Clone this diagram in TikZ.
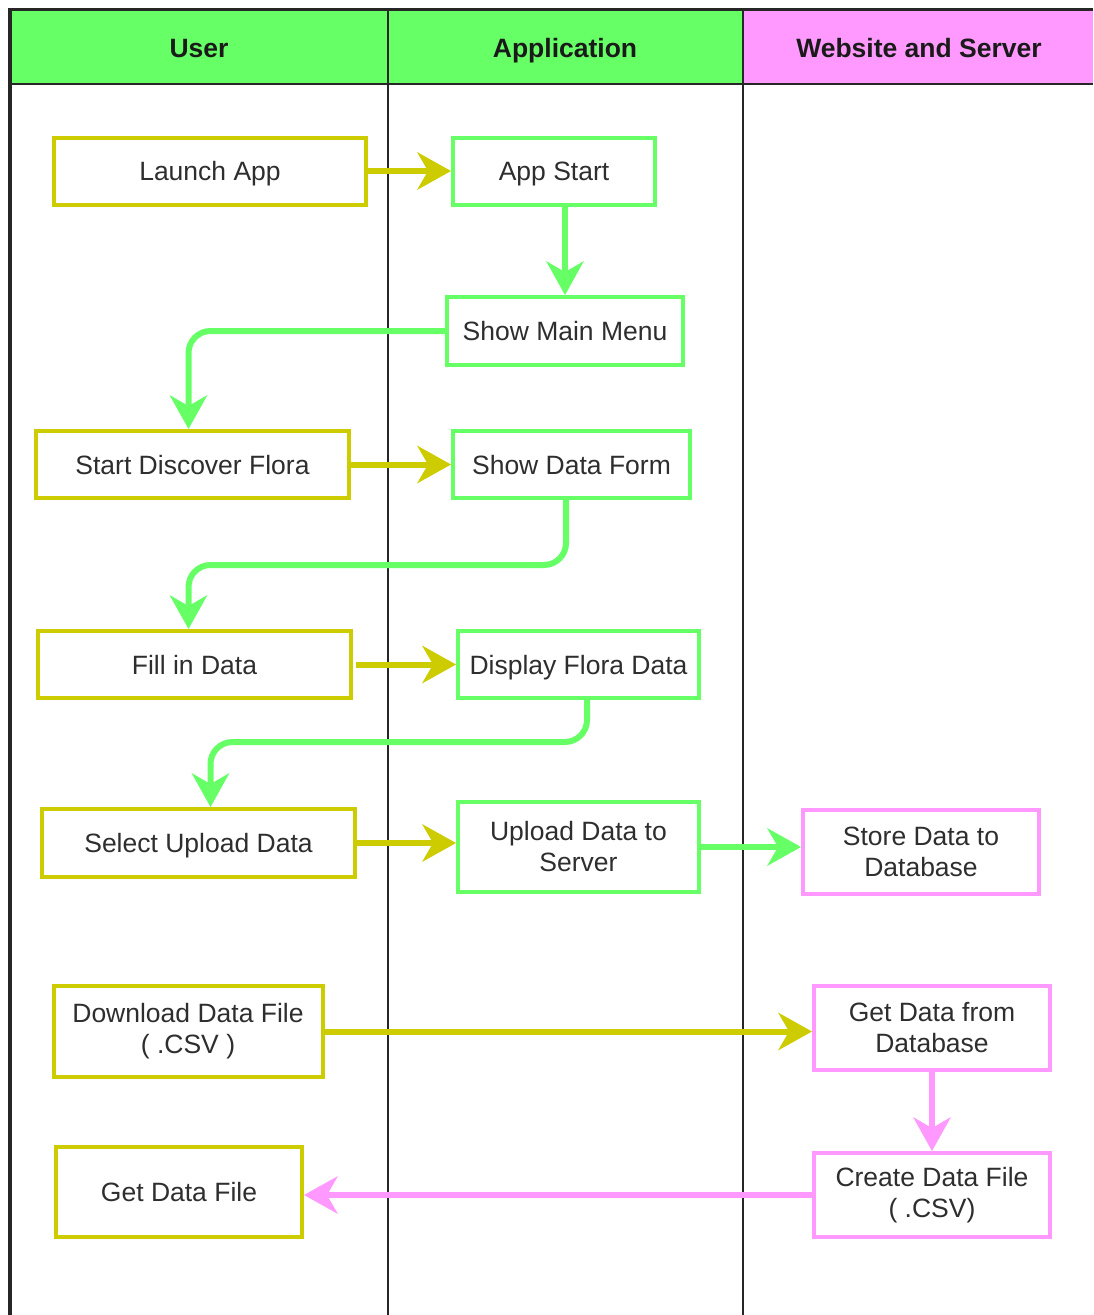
\documentclass[tikz,border=0pt]{standalone}
\usepackage{fontspec}
\setmainfont{Liberation Sans}
\usetikzlibrary{arrows.meta}
\definecolor{ylw}{HTML}{CCCC00}
\definecolor{grn}{HTML}{66FF66}
\definecolor{pnk}{HTML}{FF99FF}
\definecolor{txt}{HTML}{2E2E2E}
\definecolor{hdrtxt}{HTML}{1A1A1A}
\begin{document}
\begin{tikzpicture}[x=1pt,y=-1pt,
  box/.style={draw, line width=4pt, fill=white, text=txt, font=\fontsize{26.5}{31}\selectfont, align=center, inner sep=0pt},
  oneline/.style={text height=19pt, text depth=0pt},
  ubox/.style={box, draw=ylw},
  abox/.style={box, draw=grn},
  sbox/.style={box, draw=pnk},
  hdr/.style={text=hdrtxt, font=\fontsize{26.5}{31}\selectfont\bfseries, inner sep=0pt, text height=19pt, text depth=0pt},
  conn/.style={line width=6pt, rounded corners=22pt, -{Stealth[length=34pt,width=38pt,inset=11pt,line width=0pt]}},
  frame/.style={line width=2pt, draw=black!85},
]
\useasboundingbox (0,0) rectangle (1093,1315);
% header
\fill[grn] (10,9) rectangle (743,84);
\fill[pnk] (743,9) rectangle (1093,84);
\draw[frame, line width=3pt] (10,9) -- (1093,9);
\draw[frame, line width=3.5pt] (10,8) -- (10,1315);
\draw[frame] (10,84) -- (1093,84);
\draw[frame] (388,9) -- (388,1315);
\draw[frame] (743,9) -- (743,1315);
\node[hdr] (hu) at (199,48) {User};
\node[hdr] (ha) at (565,48) {Application};
\node[hdr] (hw) at (919,48) {Website and Server};
% nodes
\node[ubox, oneline, minimum width=312pt, minimum height=67pt] (la) at (210,171) {Launch App};
\node[abox, oneline, minimum width=202pt, minimum height=67pt] (as) at (554,171) {App Start};
\node[abox, oneline, minimum width=236pt, minimum height=68pt] (smm) at (565,331) {Show Main Menu};
\node[ubox, oneline, minimum width=313pt, minimum height=67pt] (sdf) at (192.5,464.5) {Start Discover Flora};
\node[abox, oneline, minimum width=237pt, minimum height=67pt] (sdfm) at (571.5,464.5) {Show Data Form};
\node[ubox, oneline, minimum width=313pt, minimum height=67pt] (fid) at (194.5,664.5) {Fill in Data};
\node[abox, oneline, minimum width=241pt, minimum height=67pt] (dfd) at (578.5,664.5) {Display Flora Data};
\node[ubox, oneline, minimum width=313pt, minimum height=68pt] (sud) at (198.5,843) {Select Upload Data};
\node[abox, minimum width=241pt, minimum height=90pt] (uds) at (578.5,847) {Upload Data to\\Server};
\node[sbox, minimum width=236pt, minimum height=84pt] (sdd) at (921,852) {Store Data to\\Database};
\node[ubox, minimum width=269pt, minimum height=91pt] (ddf) at (188,1031.5) {Download Data File\\( .CSV )};
\node[sbox, minimum width=236pt, minimum height=84pt] (gdd) at (932,1028) {Get Data from\\Database};
\node[sbox, minimum width=236pt, minimum height=84pt] (cdf) at (932,1195) {Create Data File\\( .CSV)};
\node[ubox, oneline, minimum width=246pt, minimum height=90pt] (gdf) at (179,1192) {Get Data File};
% bend points
\coordinate (b1) at (566,565);
\coordinate (b2) at (587,742);
% connectors
\draw[conn, draw=ylw] (la.east) -- (as.west);
\draw[conn, draw=grn] (as.south -| smm.north) -- (smm.north);
\draw[conn, draw=grn] (smm.west) -| ([xshift=-4pt]sdf.north);
\draw[conn, draw=ylw] (sdf.east) -- (sdfm.west);
\draw[conn, draw=grn] (sdfm.south -| b1) -- (b1) -| ([xshift=-6pt]fid.north);
\draw[conn, draw=ylw] ([xshift=3pt]fid.east) -- (dfd.west);
\draw[conn, draw=grn] (dfd.south -| b2) -- (b2) -| ([xshift=12pt]sud.north);
\draw[conn, draw=ylw] (sud.east) -- (sud.east -| uds.west);
\draw[conn, draw=grn] (uds.east) -- (uds.east -| sdd.west);
\draw[conn, draw=ylw] (ddf.east) -- (ddf.east -| gdd.west);
\draw[conn, draw=pnk] (gdd.south) -- (cdf.north);
\draw[conn, draw=pnk] (cdf.west) -- (cdf.west -| gdf.east);
\end{tikzpicture}
\end{document}
